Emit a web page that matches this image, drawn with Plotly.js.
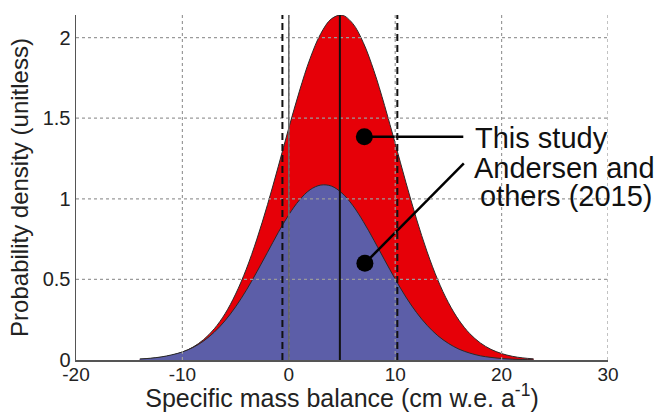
<!DOCTYPE html>
<html>
<head>
<meta charset="utf-8">
<script src="https://cdn.plot.ly/plotly-3.0.1.min.js"></script>
<style>html,body{margin:0;padding:0;background:#fff}#chart{width:659px;height:412px}</style>
</head>
<body>
<div id="chart"></div>
<script>
// Specific mass balance (cm w.e. a^-1)
const xVals = [-14,-13,-12,-11,-10,-9,-8,-7,-6,-5,-4,-3,-2,-1,0,1,2,3,4,5,6,7,8,9,10,11,12,13,14,15,16,17,18,19,20,21,22,23];
// Probability density, "This study" (red)
const thisStudy = [0.005,0.009,0.017,0.029,0.049,0.080,0.127,0.194,0.286,0.409,0.563,0.750,0.964,1.198,1.439,1.668,1.870,2.024,2.116,2.139,2.088,1.969,1.794,1.579,1.343,1.103,0.875,0.671,0.497,0.356,0.246,0.164,0.106,0.066,0.040,0.023,0.013,0.007];
// Probability density, "Andersen and others (2015)" (blue)
const andersen = [0.006,0.011,0.019,0.032,0.050,0.078,0.118,0.173,0.243,0.330,0.432,0.547,0.668,0.790,0.901,0.992,1.056,1.085,1.079,1.035,0.960,0.859,0.743,0.621,0.502,0.391,0.295,0.215,0.151,0.103,0.067,0.043,0.026,0.016,0.009,0.005,0.003,0.001];

const xTicks = [-20,-10,0,10,20,30];
const xTickText = ['-20','-10','0','10','20','30'];
const yTicks = [0,0.5,1,1.5,2];
const yTickText = ['0','0.5','1','1.5','2'];
const xGrid = [-10,0,10,20,30];
const yGrid = [0.5,1,1.5,2];

const dashedLines = [-0.6, 10.2];   // uncertainty bounds
const zeroLineX = [0];
const meanLineX = [4.8];

const labelNames = ['This study', 'Andersen and others (2015)'];
const labelDotX = [7.1, 7.15];
const labelDotY = [1.385, 0.60];
const labelEndX = [16.4, 16.45];
const labelEndY = [1.385, 1.22];

const red = '#e60008';
const blue = '#5c5ea8';
const edge = '#2a2a2a';

const traces = [
  {x: xVals, y: thisStudy, type: 'scatter', mode: 'lines', fill: 'tozeroy',
   fillcolor: red, line: {color: edge, width: 1, shape: 'spline'}, hoverinfo: 'skip', name: labelNames[0]},
  {x: xVals, y: andersen, type: 'scatter', mode: 'lines', fill: 'tozeroy',
   fillcolor: blue, line: {color: edge, width: 1, shape: 'spline'}, hoverinfo: 'skip', name: labelNames[1]}
];
for (let i = 0; i < labelDotX.length; i++) {
  traces.push({x: [labelDotX[i], labelEndX[i]], y: [labelDotY[i], labelEndY[i]], type: 'scatter', mode: 'lines',
    line: {color: '#000', width: 2.5}, hoverinfo: 'skip', cliponaxis: false});
  traces.push({x: [labelDotX[i]], y: [labelDotY[i]], type: 'scatter', mode: 'markers',
    marker: {color: '#000', size: 17}, hoverinfo: 'skip', cliponaxis: false});
}

const shapes = [];
xGrid.forEach(v => shapes.push({type: 'line', xref: 'x', yref: 'paper', x0: v, x1: v, y0: 0, y1: 1, layer: 'above',
  line: {color: '#9a9a9a', width: 1.2, dash: 'dot'}}));
yGrid.forEach(v => shapes.push({type: 'line', xref: 'paper', yref: 'y', x0: 0, x1: 1, y0: v, y1: v, layer: 'above',
  line: {color: '#9a9a9a', width: 1.2, dash: 'dot'}}));
zeroLineX.forEach(v => shapes.push({type: 'line', xref: 'x', yref: 'paper', x0: v, x1: v, y0: 0, y1: 1, layer: 'above',
  line: {color: '#666', width: 1.5}}));
dashedLines.forEach(v => shapes.push({type: 'line', xref: 'x', yref: 'paper', x0: v, x1: v, y0: 0, y1: 1, layer: 'above',
  line: {color: '#111', width: 2, dash: '7px,4px'}}));
meanLineX.forEach(v => shapes.push({type: 'line', xref: 'x', yref: 'paper', x0: v, x1: v, y0: 0, y1: 1, layer: 'above',
  line: {color: '#111', width: 2}}));

const annFont = {family: 'Liberation Sans, Arial, sans-serif', size: 29, color: '#111'};
const annotations = [
  {x: 17.3, y: 1.38, xref: 'x', yref: 'y', text: 'This study', showarrow: false, xanchor: 'left', yanchor: 'middle', font: annFont},
  {x: 25.9, y: 1.19, xref: 'x', yref: 'y', text: 'Andersen and', showarrow: false, xanchor: 'center', yanchor: 'middle', font: annFont},
  {x: 26.1, y: 1.02, xref: 'x', yref: 'y', text: 'others (2015)', showarrow: false, xanchor: 'center', yanchor: 'middle', font: annFont}
];

const layout = {
  width: 659, height: 412,
  margin: {l: 76, r: 51, t: 15, b: 52},
  paper_bgcolor: '#fff', plot_bgcolor: '#fff',
  showlegend: false,
  font: {family: 'Liberation Sans, Arial, sans-serif', color: '#222'},
  xaxis: {
    range: [-20, 30], tickvals: xTicks, ticktext: xTickText, showgrid: false, zeroline: false,
    showline: true, linecolor: '#555', linewidth: 1.5, ticks: '', layer: 'above traces',
    ticklabelstandoff: -3,
    tickfont: {size: 19, color: '#222'},
    title: {text: 'Specific mass balance (cm w.e. a<sup>-1</sup>)', font: {size: 25, color: '#222'}, standoff: 3}
  },
  yaxis: {
    range: [0, 2.14], tickvals: yTicks, ticktext: yTickText, showgrid: false, zeroline: false,
    showline: true, linecolor: '#555', linewidth: 1.5, ticks: '', layer: 'above traces',
    tickfont: {size: 20, color: '#222'},
    title: {text: 'Probability density (unitless)', font: {size: 24, color: '#222'}, standoff: 7}
  },
  shapes: shapes,
  annotations: annotations
};

Plotly.newPlot('chart', traces, layout, {displayModeBar: false, staticPlot: true});
</script>
</body>
</html>
